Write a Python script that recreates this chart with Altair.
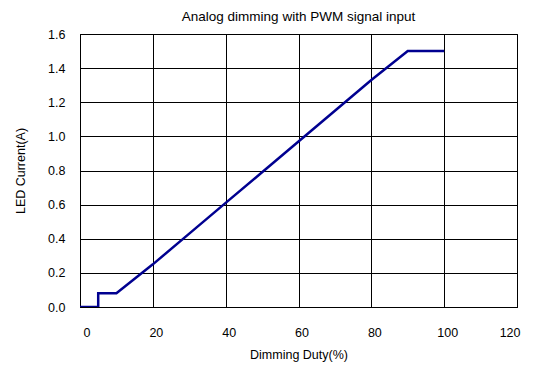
import altair as alt
import pandas as pd

duty = [0, 5, 5, 10, 20, 30, 40, 50, 60, 70, 80, 90, 100]
current = [0.0, 0.0, 0.08, 0.08, 0.25, 0.43, 0.61, 0.79, 0.97, 1.15, 1.33, 1.50, 1.50]
order = list(range(len(duty)))

df = pd.DataFrame({"duty": duty, "current": current, "order": order})

x_ticks = [0, 20, 40, 60, 80, 100, 120]
y_ticks = [0.0, 0.2, 0.4, 0.6, 0.8, 1.0, 1.2, 1.4, 1.6]

FONT = "Liberation Sans"

chart = alt.Chart(df).mark_line(color="#000090", strokeWidth=2.5, clip=True).encode(
    x=alt.X("duty:Q", scale=alt.Scale(domain=[0, 120], nice=False),
            axis=alt.Axis(values=x_ticks, title="Dimming Duty(%)", format="d",
                          grid=True, gridColor="#000000", gridWidth=1, gridOpacity=1,
                          ticks=False, domainColor="#000000", labelPadding=19,
                          labelOffset=3, titlePadding=10)),
    y=alt.Y("current:Q", scale=alt.Scale(domain=[0, 1.6], nice=False),
            axis=alt.Axis(values=y_ticks, title="LED Current(A)", format=".1f",
                          grid=True, gridColor="#000000", gridWidth=1, gridOpacity=1,
                          ticks=False, domainColor="#000000", labelPadding=15,
                          titlePadding=20)),
    order="order:Q",
).properties(
    width=437, height=273,
    title=alt.TitleParams("Analog dimming with PWM signal input", fontSize=13.5,
                          font=FONT, fontWeight="normal", offset=5, anchor="middle"),
    autosize=alt.AutoSizeParams(type="none"),
    padding={"left": 80, "top": 34, "right": 26, "bottom": 62},
).configure_view(stroke="#000000", strokeWidth=1).configure_axis(
    labelFont=FONT, titleFont=FONT, labelFontSize=12.5, titleFontSize=12.5,
    labelColor="#000000", titleColor="#000000", titleFontWeight="normal"
)

chart.save("out.html", embed_options={"renderer": "svg", "actions": False})
